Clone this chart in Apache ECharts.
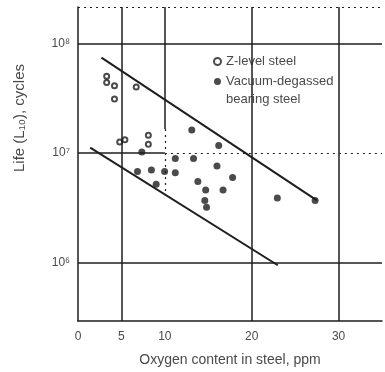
<!DOCTYPE html>
<html>
<head>
<meta charset="utf-8">
<script src="https://cdn.jsdelivr.net/npm/echarts@6/dist/echarts.min.js"></script>
<style>html,body{margin:0;padding:0;background:#fff}#chart{width:385px;height:372px}</style>
</head>
<body>
<div id="chart"></div>
<script>
// oxygen content (ppm) vs life (cycles)
var zLevelOxygen = [3.3, 3.3, 4.2, 4.2, 6.7, 4.8, 5.4, 8.1, 8.1];
var zLevelLife = [5.0e7, 4.4e7, 4.1e7, 3.1e7, 4.0e7, 1.26e7, 1.32e7, 1.45e7, 1.2e7];

var vacuumOxygen = [6.85, 8.45, 9.97, 11.2, 9.0, 7.35, 11.2, 13.3, 13.1, 16.2, 16.0, 17.8, 13.8, 14.7, 16.7, 14.6, 14.8, 22.95, 27.3];
var vacuumLife = [6.8e6, 7.0e6, 6.8e6, 6.6e6, 5.2e6, 1.02e7, 8.9e6, 8.9e6, 1.62e7, 1.17e7, 7.6e6, 6.0e6, 5.5e6, 4.6e6, 4.6e6, 3.7e6, 3.2e6, 3.9e6, 3.7e6];

// band limits
var upperOxygen = [2.7, 27.5];
var upperLife = [7.4e7, 3.7e6];
var lowerOxygen = [1.4, 23.0];
var lowerLife = [1.12e7, 9.5e5];

var xTicks = [0, 5, 10, 20, 30];
var xGrid = [5, 20, 30];
var yGrid = [1e6, 1e8];
var xMin = 0, xMax = 35;
var yMin = 2.95e5, yMax = 2.14e8;

var sup = {5: '⁵', 6: '⁶', 7: '⁷', 8: '⁸'};
function pairs(xs, ys) {
  return xs.map(function (x, i) { return [x, ys[i]]; });
}

var ink = '#1e1e1e';
var txt = '#4a4a4a';
var font = 'Liberation Sans';

var solid = { color: ink, width: 1.5, type: 'solid' };
var dotted = { color: ink, width: 1.2, type: [2, 4] };

var gridLines = [];
xGrid.forEach(function (v) { gridLines.push({ xAxis: v, lineStyle: solid }); });
yGrid.forEach(function (v) { gridLines.push({ yAxis: v, lineStyle: solid }); });
gridLines.push([{ coord: [xMin, 1e7], lineStyle: solid }, { coord: [10, 1e7] }]);
gridLines.push([{ coord: [10, 1e7], lineStyle: dotted }, { coord: [xMax, 1e7] }]);
gridLines.push([{ coord: [10, yMax], lineStyle: solid }, { coord: [10, 1.66e7] }]);
gridLines.push([{ coord: [10, 1.66e7], lineStyle: dotted }, { coord: [10, 4.3e6] }]);
gridLines.push([{ coord: [xMin, yMax], lineStyle: dotted }, { coord: [xMax, yMax] }]);

var chart = echarts.init(document.getElementById('chart'));
chart.setOption({
  animation: false,
  grid: { left: 78, right: 0, top: 7, bottom: 51 },
  legend: {
    data: ['Z-level steel', 'Vacuum-degassed'],
    orient: 'vertical',
    left: 208,
    top: 49,
    itemWidth: 7,
    itemHeight: 7,
    itemGap: 5,
    textStyle: { fontFamily: font, fontSize: 13, color: txt, lineHeight: 15 }
  },
  xAxis: {
    type: 'value',
    min: xMin,
    max: xMax,
    interval: 5,
    name: 'Oxygen content in steel, ppm',
    nameLocation: 'middle',
    nameGap: 32,
    nameTextStyle: { fontFamily: font, fontSize: 14, color: txt },
    axisLine: { lineStyle: { color: ink, width: 1.5 } },
    axisTick: { show: false },
    splitLine: { show: false },
    axisLabel: {
      margin: 10,
      fontFamily: font,
      fontSize: 12,
      color: txt,
      formatter: function (v) { return xTicks.indexOf(v) >= 0 ? String(v) : ''; }
    }
  },
  yAxis: {
    type: 'log',
    logBase: 10,
    min: yMin,
    max: yMax,
    axisLine: { show: true, lineStyle: { color: ink, width: 1.5 } },
    axisTick: { show: false },
    splitLine: { show: false },
    axisLabel: {
      margin: 8,
      fontFamily: font,
      fontSize: 12,
      color: txt,
      formatter: function (v) {
        var l = Math.log10(v), e = Math.round(l);
        if (Math.abs(l - e) > 0.01) return '';
        return '10' + sup[e];
      }
    }
  },
  graphic: [
    {
      type: 'text',
      left: 12,
      top: 64,
      rotation: Math.PI / 2,
      style: { text: 'Life (L₁₀), cycles', font: '15px "Liberation Sans"', fill: txt }
    },
    {
      type: 'text',
      left: 226,
      top: 93,
      style: { text: 'bearing steel', font: '13px "Liberation Sans"', fill: txt }
    }
  ],
  series: [
    {
      name: 'grid',
      type: 'line',
      data: [],
      silent: true,
      markLine: { silent: true, symbol: 'none', label: { show: false }, data: gridLines }
    },
    {
      name: 'upper',
      type: 'line',
      data: pairs(upperOxygen, upperLife),
      symbol: 'none',
      lineStyle: { color: ink, width: 2 }
    },
    {
      name: 'lower',
      type: 'line',
      data: pairs(lowerOxygen, lowerLife),
      symbol: 'none',
      lineStyle: { color: ink, width: 2 }
    },
    {
      name: 'Z-level steel',
      type: 'scatter',
      symbol: 'emptyCircle',
      symbolSize: 5,
      itemStyle: { color: ink, borderColor: ink, borderWidth: 1 },
      data: pairs(zLevelOxygen, zLevelLife)
    },
    {
      name: 'Vacuum-degassed',
      type: 'scatter',
      symbol: 'circle',
      symbolSize: 7,
      itemStyle: { color: ink },
      data: pairs(vacuumOxygen, vacuumLife)
    }
  ]
});
</script>
</body>
</html>
